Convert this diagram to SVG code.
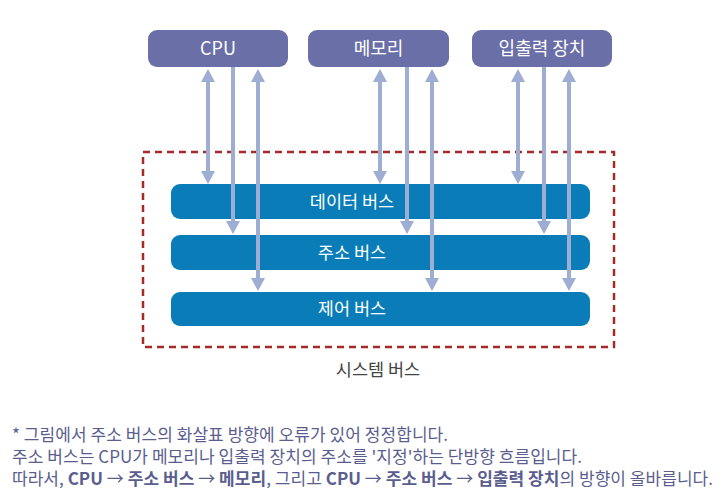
<svg xmlns="http://www.w3.org/2000/svg" width="726" height="494" viewBox="0 0 726 494">
<style>
text{font-family:"Noto Sans CJK KR","Noto Sans",sans-serif;}
.dev rect{fill:#6a6fa7;}
.dev text{fill:#ffffff;font-size:18px;text-anchor:middle;}
.bus rect{fill:#0a7db9;}
.bus text{fill:#ffffff;font-size:17.5px;text-anchor:middle;}
.conn line{stroke:#9eaed3;stroke-width:4;fill:none;}
.dbl{marker-start:url(#ah);marker-end:url(#ah);}
.one{marker-end:url(#ah);}
.note{fill:#5a5e8e;font-size:17px;}
.b{font-weight:bold;}
</style>
<defs>
<marker id="ah" markerUnits="userSpaceOnUse" markerWidth="14" markerHeight="14" viewBox="0 0 14 14" refX="0" refY="7" orient="auto-start-reverse">
<path d="M0,0 L13,7 L0,14 Z" fill="#9eaed3"/>
</marker>
</defs>
<rect width="726" height="494" fill="#ffffff"/>
<g id="system-bus">
<rect x="143" y="152" width="471" height="195" fill="none" stroke="#a52a2a" stroke-width="2.5" stroke-dasharray="7 5"/>
<text x="378" y="376" font-size="17.5" fill="#444444" text-anchor="middle">시스템 버스</text>
</g>
<g id="cpu" class="dev"><rect x="148" y="30" width="140" height="37" rx="9"/><text x="218" y="54.5">CPU</text></g>
<g id="memory" class="dev"><rect x="308" y="30" width="141" height="37" rx="9"/><text x="378.5" y="54.5">메모리</text></g>
<g id="io" class="dev"><rect x="472" y="30" width="140" height="37" rx="9"/><text x="542" y="54.5">입출력 장치</text></g>
<g id="data-bus" class="bus"><rect x="171" y="184" width="419" height="35" rx="9"/><text x="352" y="208">데이터 버스</text></g>
<g id="address-bus" class="bus"><rect x="171" y="235" width="419" height="35" rx="9"/><text x="352" y="258.5">주소 버스</text></g>
<g id="control-bus" class="bus"><rect x="171" y="292" width="419" height="34" rx="9"/><text x="352" y="315">제어 버스</text></g>
<g id="connectors" class="conn">
<line class="dbl" x1="208" y1="82" x2="208" y2="171"/>
<line class="one" x1="233" y1="67" x2="233" y2="221"/>
<line class="dbl" x1="258" y1="82" x2="258" y2="278"/>
<line class="dbl" x1="380" y1="82" x2="380" y2="171"/>
<line class="one" x1="407" y1="67" x2="407" y2="221"/>
<line class="dbl" x1="432" y1="82" x2="432" y2="278"/>
<line class="dbl" x1="518" y1="82" x2="518" y2="171"/>
<line class="one" x1="544" y1="67" x2="544" y2="221"/>
<line class="dbl" x1="569" y1="82" x2="569" y2="278"/>
</g>
<g id="notes">
<text class="note" x="12" y="441" textLength="436" lengthAdjust="spacing">* 그림에서 주소 버스의 화살표 방향에 오류가 있어 정정합니다.</text>
<text class="note" x="12" y="463" textLength="570" lengthAdjust="spacing">주소 버스는 CPU가 메모리나 입출력 장치의 주소를 '지정'하는 단방향 흐름입니다.</text>
<text class="note" x="12" y="485" textLength="701" lengthAdjust="spacing">따라서, <tspan class="b">CPU</tspan> → <tspan class="b">주소 버스</tspan> → <tspan class="b">메모리</tspan>, 그리고 <tspan class="b">CPU</tspan> → <tspan class="b">주소 버스</tspan> → <tspan class="b">입출력 장치</tspan>의 방향이 올바릅니다.</text>
</g>
</svg>
